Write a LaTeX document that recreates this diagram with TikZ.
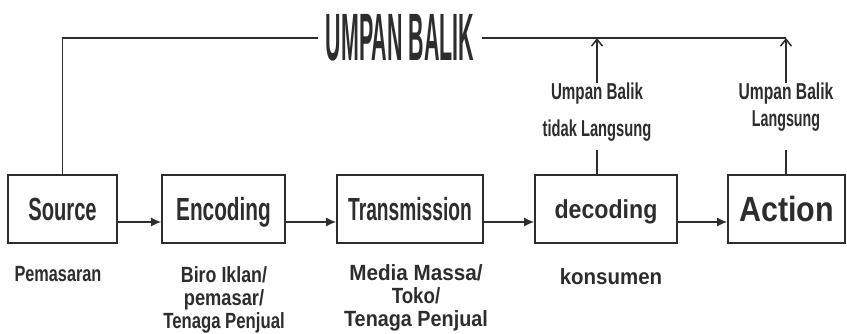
\documentclass[tikz,border=0pt]{standalone}
\usepackage{fontspec}
\setmainfont{Liberation Sans}
\usetikzlibrary{arrows.meta}
\definecolor{tinta}{RGB}{45,45,45}
\newcommand{\sempit}[2]{\scalebox{#1}[1]{#2}}

\begin{document}
\begin{tikzpicture}[x=1pt,y=-1pt,
  kotak/.style={draw=tinta,line width=1.6pt,inner sep=0pt,minimum height=68pt,text depth=0pt,text=tinta,font=\bfseries\fontsize{32}{32}\selectfont},
  ket/.style={anchor=north,inner sep=0pt,align=center,text=tinta,font=\bfseries\fontsize{22}{23}\selectfont},
  panah/.style={draw=tinta,line width=1.5pt,-{Latex[length=10pt,width=9pt]}},
  balik/.style={draw=tinta,line width=1.5pt},
  naik/.style={balik,-{Straight Barb[length=7pt,width=11pt]}}]
\useasboundingbox (0,0) rectangle (847,334);
\coordinate (lajur) at (0,222);
\node[kotak,minimum width=109pt] (src) at (62.5,209) {\sempit{0.63}{Source}};
\node[kotak,minimum width=123pt] (enc) at (223.5,209) {\sempit{0.65}{Encoding}};
\node[kotak,minimum width=146pt] (trm) at (410,209) {\sempit{0.6}{Transmission}};
\node[kotak,minimum width=142pt,font=\bfseries\fontsize{26}{26}\selectfont] (dec) at (606,209) {\sempit{0.89}{decoding}};
\node[kotak,minimum width=117pt,font=\bfseries\fontsize{35}{35}\selectfont] (act) at (786.5,209) {\sempit{0.87}{Action}};
\node[inner xsep=8pt,inner ysep=0pt,text=tinta,font=\bfseries\fontsize{67}{67}\selectfont] (umpan) at (400,38) {\sempit{0.32}{UMPAN BALIK}};
\node[ket,font=\bfseries\fontsize{23}{37}\selectfont] (fbA) at (597,83) {\sempit{0.66}{Umpan Balik}\\\sempit{0.64}{tidak Langsung}};
\node[ket,font=\bfseries\fontsize{23}{27}\selectfont] (fbB) at (786,83) {\sempit{0.68}{Umpan Balik}\\\sempit{0.62}{Langsung}};
\node[ket] (pem) at (58,266) {\sempit{0.74}{Pemasaran}};
\node[ket] (biro) at (224,266) {\sempit{0.81}{Biro Iklan/}\\\sempit{0.83}{pemasar/}\\\sempit{0.76}{Tenaga Penjual}};
\node[ket] (media) at (416,264) {\sempit{0.94}{Media Massa/}\\\sempit{0.85}{Toko/}\\\sempit{0.9}{Tenaga Penjual}};
\node[ket] (kons) at (611,268) {\sempit{0.93}{konsumen}};
\draw[panah] (src.east |- lajur) -- (enc.west |- lajur);
\draw[panah] (enc.east |- lajur) -- (trm.west |- lajur);
\draw[panah] (trm.east |- lajur) -- (dec.west |- lajur);
\draw[panah] (dec.east |- lajur) -- (act.west |- lajur);
\draw[balik] (src.north) |- (umpan.west);
\draw[balik] (umpan.east) -- (umpan.east -| fbB.north);
\draw[naik] (fbA.north) -- (fbA.north |- umpan.east);
\draw[naik] (fbB.north) -- (fbB.north |- umpan.east);
\draw[balik,shorten >=8pt] (fbA.south |- dec.north) -- (fbA.south);
\draw[balik,shorten >=18pt] (fbB.south |- act.north) -- (fbB.south);
\end{tikzpicture}
\end{document}
